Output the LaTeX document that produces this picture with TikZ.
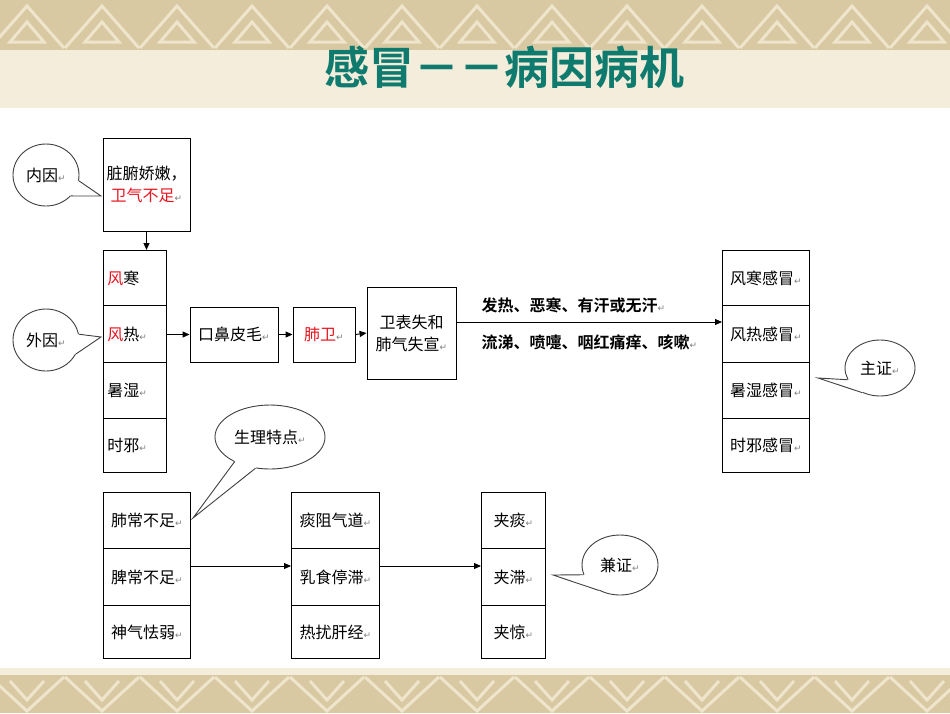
\documentclass[tikz,border=0pt]{standalone}
\usepackage{fontspec}
\setmainfont{Noto Sans CJK SC}
\newfontfamily\cjkb{Noto Sans CJK SC Bold}
\newfontfamily\djv{DejaVu Sans}
\usetikzlibrary{shapes.geometric,arrows.meta}
\definecolor{band}{HTML}{D8C9A2}
\definecolor{bandl}{HTML}{EFE5CC}
\definecolor{cream}{HTML}{F4EDDC}
\definecolor{teal}{HTML}{0F7B6E}
\definecolor{wred}{HTML}{E8141E}
\newcommand{\pmk}{{\djv\color{gray}\fontsize{9}{9}\selectfont ↵}}
\tikzset{
  bx/.style={draw,line width=0.9pt,fill=white,inner sep=0pt,font=\fontsize{16}{22}\selectfont,align=center},
  cl/.style={ellipse,draw=black!75,line width=0.9pt,fill=white,inner sep=0pt},
  ct/.style={font=\fontsize{16}{20}\selectfont},
  tl/.style={draw=black!75,line width=0.9pt},
  ar/.style={-{Triangle[length=7pt,width=6pt]},line width=0.9pt},
}
\newcommand{\tail}[4]{\fill[white] (#1.#2) -- (#4) -- (#1.#3) -- (#1.center) -- cycle;
  \draw[tl] (#1.#2) -- (#4) -- (#1.#3);}
\begin{document}
\begin{tikzpicture}[x=1pt,y=-1pt]
\useasboundingbox (0,0) rectangle (950,713);
\fill[cream] (0,0) rectangle (950,713);
\fill[band] (0,0) rectangle (950,50);
\fill[band] (0,675) rectangle (950,713);
\foreach \i in {0,...,13}{
  \draw[bandl,line width=3pt] (\i*75-10,48) -- (\i*75+27,6) -- (\i*75+64,48);
  \draw[bandl,line width=3pt] (\i*75+10,42) -- (\i*75+27,22) -- (\i*75+44,42) -- cycle;
  \draw[bandl,line width=3pt] (\i*75-10,677) -- (\i*75+27,711) -- (\i*75+64,677);
  \draw[bandl,line width=3pt] (\i*75+10,681) -- (\i*75+27,700) -- (\i*75+44,681);
}
\fill[white] (0,108) rectangle (950,668);
\node[text=teal,font=\cjkb\fontsize{45}{50}\selectfont] (title) at (504,67) {感冒－－病因病机};

% top box
\node[bx,minimum width=87pt,minimum height=93pt] (zf) at (146.5,184.5) {脏腑娇嫩，\\\textcolor{wred}{卫气不足}\pmk};
% left column
\foreach \n/\t/\ya/\yb in {fh/{\textcolor{wred}{风}寒}/250/305, fr/{\textcolor{wred}{风}热\pmk}/305/362, sd/{暑湿\pmk}/362/418, sx/{时邪\pmk}/418/472}{
  \node[bx,minimum width=63pt,minimum height={(\yb-\ya)*1pt},anchor=north west,text width=55pt,align=left] (\n) at (103,\ya) {\t};
}
\draw[ar] (zf.south) -- (fh.north -| zf.south);
\node[bx,minimum width=88pt,minimum height=55pt] (kb) at (234,334.5) {口鼻皮毛\pmk};
\node[bx,minimum width=62pt,minimum height=55pt] (fw) at (324,334.5) {\textcolor{wred}{肺卫}\pmk};
\node[bx,minimum width=89pt,minimum height=92pt] (wb) at (411.5,333) {卫表失和\\肺气失宣\pmk};
\draw[ar] (fr.east |- kb.west) -- (kb.west);
\draw[ar] (kb.east) -- (fw.west);
\draw[ar] (fw.east) -- (wb.west);
% right column
\foreach \n/\t/\ya/\yb in {r1/风寒感冒/250/305, r2/风热感冒/305/362, r3/暑湿感冒/362/418, r4/时邪感冒/418/472}{
  \node[bx,minimum width=87pt,minimum height={(\yb-\ya)*1pt},anchor=north west] (\n) at (722,\ya) {\t\pmk};
}
\coordinate (tgt) at (722,322);
\draw[ar] (wb.east |- tgt) -- (tgt);
\node[font=\cjkb\fontsize{16}{20}\selectfont,anchor=west] (s1) at (478,305) {发热、恶寒、有汗或无汗\pmk};
\node[font=\cjkb\fontsize{16}{20}\selectfont,anchor=west] (s2) at (478,342) {流涕、喷嚏、咽红痛痒、咳嗽\pmk};
% bottom columns
\foreach \n/\t/\ya/\yb in {b1/肺常不足/492/548, b2/脾常不足/548/605, b3/神气怯弱/605/658}{
  \node[bx,minimum width=87pt,minimum height={(\yb-\ya)*1pt},anchor=north west] (\n) at (103,\ya) {\t\pmk};
}
\foreach \n/\t/\ya/\yb in {m1/痰阻气道/492/548, m2/乳食停滞/548/605, m3/热扰肝经/605/658}{
  \node[bx,minimum width=88pt,minimum height={(\yb-\ya)*1pt},anchor=north west] (\n) at (291,\ya) {\t\pmk};
}
\foreach \n/\t/\ya/\yb in {j1/夹痰/492/548, j2/夹滞/548/605, j3/夹惊/605/658}{
  \node[bx,minimum width=64pt,minimum height={(\yb-\ya)*1pt},anchor=north west] (\n) at (481,\ya) {\t\pmk};
}
\coordinate (ya) at (0,566);
\draw[ar] (b2.east |- ya) -- (m2.west |- ya);
\draw[ar] (m2.east |- ya) -- (j2.west |- ya);
% callouts
\node[cl,minimum width=66pt,minimum height=62pt] (ny) at (46,175) {};
\coordinate (nyt) at (101,196);
\tail{ny}{-10}{-40}{nyt}
\node[ct] (nyl) at (ny.center) {内因\pmk};
\node[cl,minimum width=66pt,minimum height=62pt] (wy) at (46,340) {};
\coordinate (wyt) at (101,337);
\tail{wy}{10}{-25}{wyt}
\node[ct] (wyl) at (wy.center) {外因\pmk};
\node[cl,minimum width=70pt,minimum height=56pt] (zz) at (880,368) {};
\coordinate (zzt) at (818,378);
\tail{zz}{200}{235}{zzt}
\node[ct] (zzl) at (zz.center) {主证\pmk};
\node[cl,minimum width=110pt,minimum height=64pt] (sl) at (270,437) {};
\coordinate (slt) at (193,518);
\tail{sl}{215}{245}{slt}
\node[ct] (sll) at (sl.center) {生理特点\pmk};
\node[cl,minimum width=76pt,minimum height=60pt] (jz) at (620,565) {};
\coordinate (jzt) at (553,575);
\tail{jz}{195}{230}{jzt}
\node[ct] (jzl) at (jz.center) {兼证\pmk};
\end{tikzpicture}
\end{document}
